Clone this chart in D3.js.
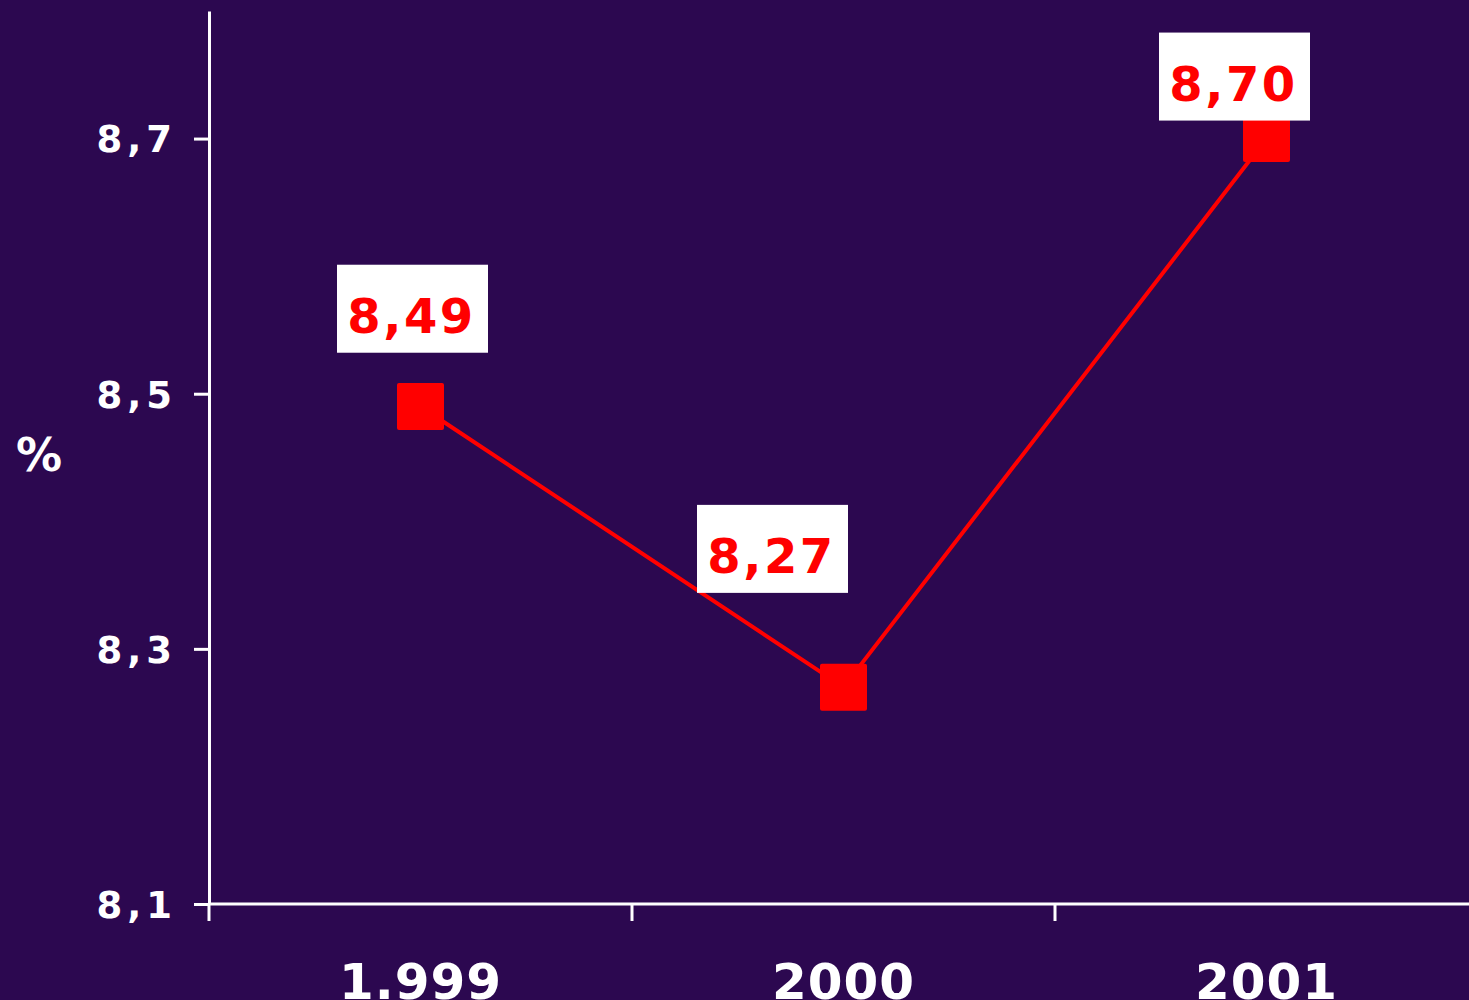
<!DOCTYPE html>
<html>
<head>
<meta charset="utf-8">
<script src="https://cdn.jsdelivr.net/npm/d3@7/dist/d3.min.js"></script>
<style>
  html, body { margin: 0; padding: 0; background: #2C0850; }
  svg { display: block; }
</style>
</head>
<body>
<svg id="chart" width="1469" height="1000"></svg>
<script>
// ---- data ----
const categories = ["1.999", "2000", "2001"];
const values = [8.49, 8.27, 8.70];
const valueLabels = ["8,49", "8,27", "8,70"];
const yTickValues = [8.1, 8.3, 8.5, 8.7];
const yTickLabels = ["8,1", "8,3", "8,5", "8,7"];
const yAxisTitle = "%";

// ---- layout (label box offsets relative to marker centre) ----
const labelOffsets = [[-83.5, -141.75], [-146.5, -182.25], [-107.5, -106]];

const W = 1469, H = 1000;
const bg = "#2C0850";
const font = "'DejaVu Sans', Verdana, sans-serif";

const svg = d3.select("#chart");
svg.append("rect").attr("width", W).attr("height", H).attr("fill", bg);

const x = d3.scaleBand().domain(categories).range([209, 1478]).padding(0);
const y = d3.scaleLinear().domain([8.1, 8.8]).range([904, 11]);

// y axis
const yAxis = d3.axisLeft(y)
  .tickValues(yTickValues)
  .tickSizeInner(15)
  .tickSizeOuter(0)
  .tickPadding(0)
  .tickFormat((d, i) => yTickLabels[i]);

const gy = svg.append("g").attr("transform", "translate(209,0)").call(yAxis);
gy.select(".domain").attr("stroke", "#fff").attr("stroke-width", 3);
gy.selectAll(".tick line").attr("stroke", "#fff").attr("stroke-width", 3);
gy.selectAll(".tick text")
  .attr("fill", "#fff")
  .attr("font-family", font)
  .attr("font-weight", "bold")
  .attr("font-size", 37)
  .attr("letter-spacing", "5px")
  .attr("x", -32)
  .attr("dy", "0.36em");

// x axis line
svg.append("line")
  .attr("x1", 209).attr("x2", W)
  .attr("y1", y(8.1)).attr("y2", y(8.1))
  .attr("stroke", "#fff").attr("stroke-width", 3);

// x ticks at band boundaries
svg.selectAll(".xtick").data(categories).enter().append("line")
  .attr("class", "xtick")
  .attr("x1", d => x(d)).attr("x2", d => x(d))
  .attr("y1", y(8.1)).attr("y2", y(8.1) + 17)
  .attr("stroke", "#fff").attr("stroke-width", 3);

// x labels
svg.selectAll(".xlabel").data(categories).enter().append("text")
  .attr("class", "xlabel")
  .attr("x", d => x(d) + x.bandwidth() / 2)
  .attr("y", 999)
  .attr("text-anchor", "middle")
  .attr("fill", "#fff")
  .attr("font-family", font)
  .attr("font-weight", "bold")
  .attr("font-size", 50)
  .attr("letter-spacing", "1px")
  .text(d => d);

// y axis title
svg.append("text")
  .attr("x", 39).attr("y", 471)
  .attr("text-anchor", "middle")
  .attr("fill", "#fff")
  .attr("font-family", font)
  .attr("font-weight", "bold")
  .attr("font-size", 46)
  .text(yAxisTitle);

// line
const pts = categories.map((c, i) => [x(c) + x.bandwidth() / 2, y(values[i])]);
svg.append("path")
  .attr("d", d3.line()(pts))
  .attr("fill", "none")
  .attr("stroke", "#FF0000")
  .attr("stroke-width", 4);

// markers
const ms = 47;
svg.selectAll(".marker").data(pts).enter().append("rect")
  .attr("class", "marker")
  .attr("x", d => d[0] - ms / 2)
  .attr("y", d => d[1] - ms / 2)
  .attr("width", ms).attr("height", ms)
  .attr("rx", 2)
  .attr("fill", "#FF0000");

// value label boxes
const bw = 151, bh = 88;
const lg = svg.selectAll(".vlabel").data(pts).enter().append("g")
  .attr("class", "vlabel")
  .attr("transform", (d, i) => `translate(${d[0] + labelOffsets[i][0]},${d[1] + labelOffsets[i][1]})`);
lg.append("rect").attr("width", bw).attr("height", bh).attr("fill", "#fff");
lg.append("text")
  .attr("x", bw / 2 - 1).attr("y", 68)
  .attr("text-anchor", "middle")
  .attr("fill", "#FF0000")
  .attr("font-family", font)
  .attr("font-weight", "bold")
  .attr("font-size", 48)
  .attr("letter-spacing", "2.5px")
  .text((d, i) => valueLabels[i]);
</script>
</body>
</html>
